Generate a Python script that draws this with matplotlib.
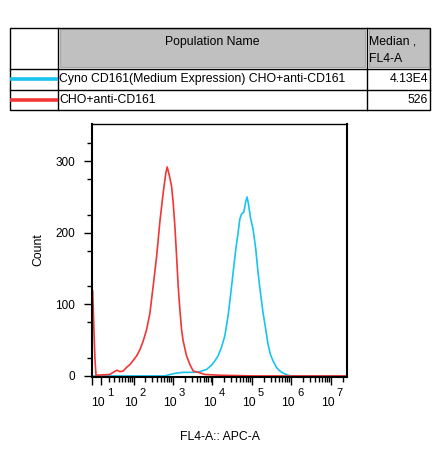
import numpy as np
import matplotlib
matplotlib.use("Agg")
import matplotlib.pyplot as plt
import matplotlib.transforms as mtransforms
from matplotlib.patches import Rectangle

plt.rcParams['font.family'] = ['Liberation Sans', 'DejaVu Sans']

############### data ###############
population_names = ["Cyno CD161(Medium Expression) CHO+anti-CD161", "CHO+anti-CD161"]
medians = ["4.13E4", "526"]

# FL4-A values (bin positions) and counts
blue_x = [0.5, 628, 840, 1242, 1822, 3268, 4830, 7130, 9550, 11580,
          14030, 17100, 20750, 25130, 28910, 33650, 39370, 45030, 49740, 54930,
          62810, 70630, 76210, 82640, 92900, 108100, 126500, 144600, 166300, 193600,
          226500, 258900, 297800, 346700, 422700, 512600, 621300, 831800, 1.01e6, 2.5e7]
blue_count = [0, 0, 2, 4, 5, 5, 6, 9, 15, 21,
              28, 40, 56, 84, 112, 144, 177, 200, 219, 226,
              229, 244, 250, 240, 221, 205, 177, 144, 116, 88,
              65, 44, 30, 21, 12, 7, 4, 1, 0, 0]

red_x = [0.7, 2.1, 3.1, 4.2, 22, 28, 36, 44, 54, 66,
         81, 99, 120, 146, 177, 216, 262, 317, 387, 469,
         568, 665, 718, 806, 927, 1018, 1125, 1242, 1362, 1503,
         1660, 1822, 2223, 2697, 3268, 4373, 6471, 15500, 1e5, 2.5e7]
red_count = [119, 60, 23, 1, 2, 5, 8, 6, 7, 12,
             16, 22, 28, 37, 49, 65, 88, 126, 167, 216,
             256, 284, 292, 281, 265, 242, 209, 167, 126, 93,
             65, 49, 28, 16, 7, 5, 2, 1, 0, 0]

decades = [1, 2, 3, 4, 5, 6, 7]
y_major = [0, 100, 200, 300]

blue = '#19c3f0'
red = '#f33535'
fs = 8.8

fig = plt.figure(figsize=(4.4, 4.66), dpi=100)

############### table at the top (pixel coords overlay) ###############
tab = fig.add_axes([0, 0, 1, 1])
tab.set_xlim(0, 440)
tab.set_ylim(466, 0)
tab.axis('off')
tab.patch.set_visible(False)

L, R, T, B = 9.5, 430, 27.5, 110
c1, c2 = 57.5, 366.5
h1, h2 = 68.5, 89.5
for (x0, x1) in [(59.5, 365), (368.5, 428.5)]:
    tab.add_patch(Rectangle((x0, T + 1.5), x1 - x0, h1 - T - 3.5,
                            facecolor='#c0c0c0', edgecolor='#a8a8a8', lw=0.8))
tab.add_patch(Rectangle((L, T), R - L, B - T, fill=False, edgecolor='black', lw=1))
tab.plot([c1, c1], [T, B], color='black', lw=1)
tab.plot([c2, c2], [T, B], color='black', lw=1)
tab.plot([L, R], [h1, h1], color='black', lw=1)
tab.plot([L, R], [h2, h2], color='black', lw=1)

tab.text(212, 41.5, "Population Name", ha='center', va='center', fontsize=fs)
tab.text(369, 42, "Median ,", ha='left', va='center', fontsize=fs)
tab.text(369, 59, "FL4-A", ha='left', va='center', fontsize=fs)

row_y = [(h1 + h2) / 2, (h2 + B) / 2]
for name, med, col, yy in zip(population_names, medians, [blue, red], row_y):
    tab.plot([L, c1], [yy, yy], color=col, lw=2.6, solid_capstyle='butt')
    tab.text(59, yy, name, ha='left', va='center', fontsize=fs)
    tab.text(428, yy, med, ha='right', va='center', fontsize=fs)

############### histogram ###############
ax = fig.add_axes([92 / 440, 1 - 377 / 466, 255 / 440, 253 / 466])
ax.set_xscale('asinh', linear_width=17.8)
ax.plot(blue_x, blue_count, color=blue, lw=1.2)
ax.plot(red_x, red_count, color=red, lw=1.2)

ax.set_xlim(0, 2.6e7)
ax.set_ylim(-1.5, 352)

ax.set_xticks([0] + [10 ** d for d in decades], [''] * (len(decades) + 1))
minor = [k * 10 ** d for d in range(1, 7) for k in range(2, 10)] + [2e7]
ax.set_xticks(minor, minor=True)
ax.set_yticks(y_major)
ax.set_yticks(np.arange(25, 351, 50), minor=True)

ax.tick_params(axis='both', which='major', direction='out', length=6, width=1,
               labelsize=8.5)
ax.tick_params(axis='y', which='major', pad=6)
ax.tick_params(axis='both', which='minor', direction='out', length=3.5, width=1)
for s in ax.spines.values():
    s.set_linewidth(1.5)
ax.spines['top'].set_linewidth(1)

# decade labels drawn as "10" plus a raised exponent
base_tr = mtransforms.offset_copy(ax.get_xaxis_transform(), fig=fig, x=4, y=-28.5, units='dots')
exp_tr = mtransforms.offset_copy(ax.get_xaxis_transform(), fig=fig, x=6, y=-19.5, units='dots')
for d in decades:
    ax.text(10 ** d, 0, "10", transform=base_tr, ha='right', va='baseline',
            fontsize=8.7, clip_on=False)
    ax.text(10 ** d, 0, str(d), transform=exp_tr, ha='left', va='baseline',
            fontsize=8.0, clip_on=False)

fig.text(38 / 440, 1 - 250 / 466, "Count", rotation=90, ha='center', va='center',
         fontsize=fs)
fig.text(220 / 440, 1 - 437 / 466, "FL4-A:: APC-A", ha='center', va='center',
         fontsize=fs)

fig.savefig("out.png", dpi=100)
